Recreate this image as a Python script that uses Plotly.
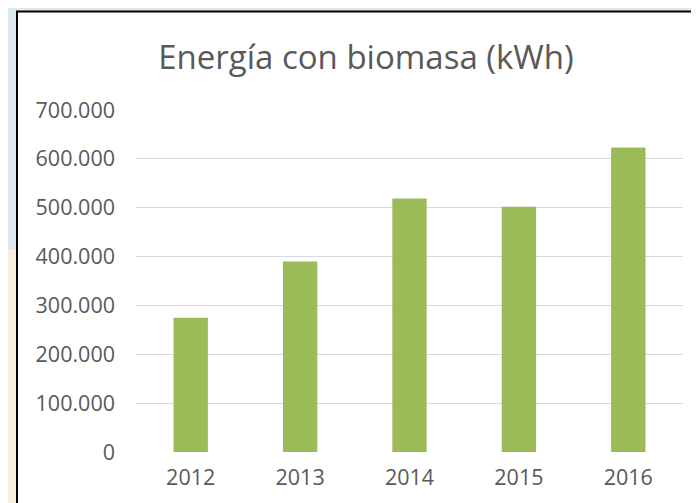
import plotly.graph_objects as go

years = ["2012", "2013", "2014", "2015", "2016"]
energy_kwh = [275000, 390000, 519000, 502000, 623000]
y_ticks = [0, 100000, 200000, 300000, 400000, 500000, 600000, 700000]
title_text = "Energía con biomasa (kWh)"

# the page body adds an 8px offset; work in screen pixels and shift
OFF = 8
W, H = 699 - OFF, 503 - OFF
L, R, T, B = 136 - OFF, 16, 110 - OFF, 57 - OFF
pw, ph = W - L - R, H - T - B

def px(x):
    return (x - OFF - L) / pw

def py(y):
    return (H - B - (y - OFF)) / ph

fig = go.Figure(go.Bar(x=years, y=energy_kwh, marker=dict(color="#9BBB59", line=dict(width=0))))

shapes = [
    dict(type="rect", xref="paper", yref="paper", x0=px(-20), x1=px(720), y0=py(-20), y1=py(520),
         fillcolor="#dde9f0", line=dict(width=0), layer="below"),
    dict(type="rect", xref="paper", yref="paper", x0=px(-20), x1=px(17), y0=py(250), y1=py(520),
         fillcolor="#f6f0d8", line=dict(width=0), layer="below"),
    dict(type="rect", xref="paper", yref="paper", x0=px(17), x1=px(720), y0=py(11), y1=py(520),
         fillcolor="white", line=dict(color="black", width=2), layer="below"),
]

fig.update_layout(
    width=W, height=H,
    margin=dict(l=L, r=R, t=T, b=B),
    paper_bgcolor="#dde9f0",
    plot_bgcolor="rgba(0,0,0,0)",
    separators=",.",
    shapes=shapes,
    showlegend=False,
    bargap=0.686,
    font=dict(family="Open Sans", color="#595959", size=21.5),
    title=dict(text=title_text, x=(366 - OFF) / W, xanchor="center", y=1 - (57 - OFF) / H, yanchor="middle",
               font=dict(family="Open Sans", size=33, color="#595959")),
    xaxis=dict(showgrid=False, showline=False, ticks="", ticklabelstandoff=10,
               tickfont=dict(size=21.5, color="#595959")),
    yaxis=dict(range=[0, 700000], tickvals=y_ticks, tickformat=",d", showgrid=True,
               gridcolor="#d9d9d9", gridwidth=1.3, zeroline=False, showline=False,
               ticks="", ticklabelstandoff=20, tickfont=dict(size=21.5, color="#595959")),
)

fig.write_html("out.html")
